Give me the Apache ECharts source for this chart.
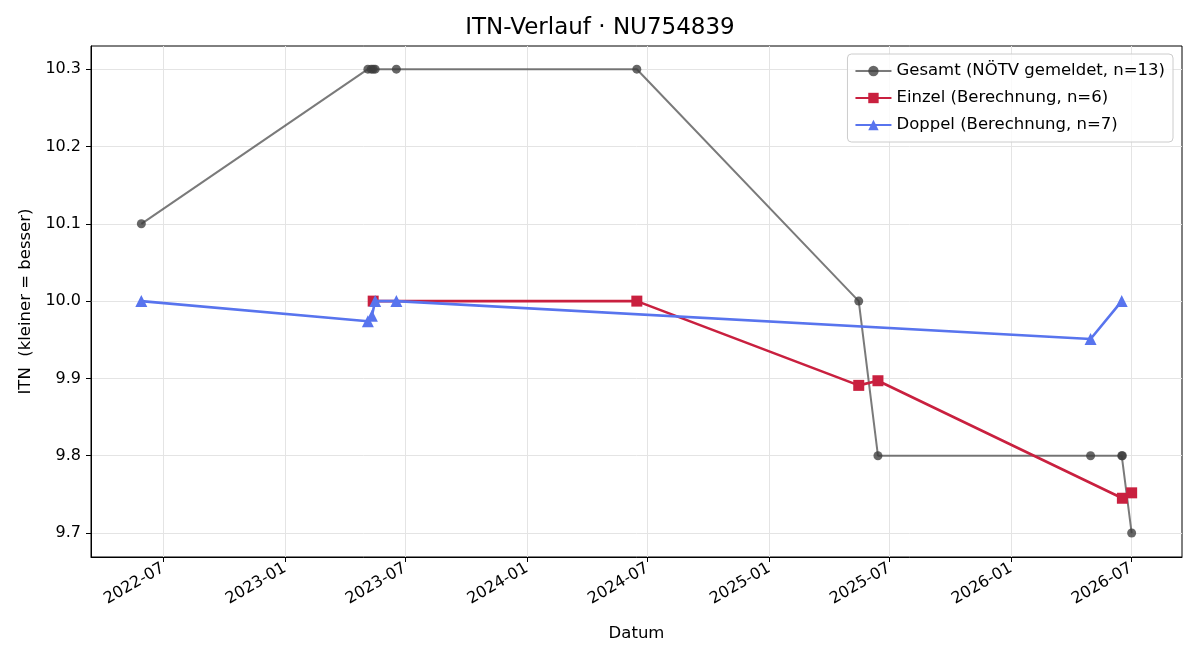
<!DOCTYPE html>
<html><head><meta charset="utf-8">
<script src="https://cdn.jsdelivr.net/npm/echarts@6/dist/echarts.min.js"></script>
<style>html,body{margin:0;padding:0;background:#fff}#c{width:1200px;height:660px}</style>
</head><body><div id="c"></div>
<script>
const gesamtDates = ['2022-05-29','2023-05-06','2023-05-11','2023-05-14','2023-05-17','2023-06-18','2024-06-15','2025-05-16','2025-06-14','2026-05-01','2026-06-17','2026-06-18','2026-07-02'];
const gesamtValues = [10.1,10.3,10.3,10.3,10.3,10.3,10.3,10.0,9.8,9.8,9.8,9.8,9.7];
const einzelDates = ['2023-05-14','2024-06-15','2025-05-16','2025-06-14','2026-06-18','2026-07-02'];
const einzelValues = [10.0,10.0,9.891,9.897,9.745,9.752];
const doppelDates = ['2022-05-29','2023-05-06','2023-05-12','2023-05-17','2023-06-18','2026-05-01','2026-06-17'];
const doppelValues = [10.0,9.974,9.981,10.0,10.0,9.951,10.0];
const xTickLabels = ['2022-07','2023-01','2023-07','2024-01','2024-07','2025-01','2025-07','2026-01','2026-07'];
const yTicks = [9.7,9.8,9.9,10.0,10.1,10.2,10.3];

const toTs = s => { const p = s.split('-').map(Number); return Date.UTC(p[0], p[1]-1, p[2] || 1); };
const pairs = (d, v) => d.map((x, i) => [toTs(x), v[i]]);
const xTicks = xTickLabels.map(toTs);
const font = 'DejaVu Sans';

const chart = echarts.init(document.getElementById('c'), null, {renderer: 'canvas'});
chart.setOption({
  animation: false,
  backgroundColor: '#fff',
  textStyle: {fontFamily: font},
  title: {text: 'ITN-Verlauf · NU754839', left: 'center', top: 12,
    textStyle: {fontFamily: font, fontSize: 23, fontWeight: 'normal', color: '#000'}},
  grid: {left: 91, right: 18, top: 46, bottom: 103, show: true, borderColor: '#000', borderWidth: 1, backgroundColor: 'transparent'},
  legend: {
    orient: 'vertical', right: 27, top: 54,
    backgroundColor: 'rgba(255,255,255,0.8)', borderColor: '#cccccc', borderWidth: 1, borderRadius: 4,
    padding: [8, 8, 8, 7], itemGap: 9, itemWidth: 36, itemHeight: 13,
    textStyle: {fontFamily: font, fontSize: 16.5, color: '#000', lineHeight: 18},
    data: ['Gesamt (NÖTV gemeldet, n=13)', 'Einzel (Berechnung, n=6)', 'Doppel (Berechnung, n=7)']
  },
  xAxis: {
    type: 'value',
    min: toTs('2022-03-14'), max: toTs('2026-09-16'),
    name: 'Datum', nameLocation: 'middle', nameGap: 68,
    nameTextStyle: {fontFamily: font, fontSize: 16.5, color: '#000'},
    axisLine: {show: true, onZero: false, lineStyle: {color: '#000', width: 1}},
    axisTick: {show: true, inside: false, length: 5, lineStyle: {color: '#000'}, customValues: xTicks},
    axisLabel: {customValues: xTicks, rotate: 30, fontFamily: font, fontSize: 16, color: '#000', margin: 10,
      formatter: v => { const i = xTicks.indexOf(v); return i >= 0 ? xTickLabels[i] : ''; }},
    splitLine: {show: true, lineStyle: {color: '#e4e4e4', width: 1}}
  },
  yAxis: {
    type: 'value', min: 9.669, max: 10.33,
    name: 'ITN  (kleiner = besser)', nameLocation: 'middle', nameGap: 57,
    nameTextStyle: {fontFamily: font, fontSize: 16.5, color: '#000'},
    axisLine: {show: true, lineStyle: {color: '#000', width: 1}},
    axisTick: {show: true, length: 5, lineStyle: {color: '#000'}, customValues: yTicks},
    axisLabel: {customValues: yTicks, fontFamily: font, fontSize: 16, color: '#000', margin: 10, formatter: v => v.toFixed(1)},
    splitLine: {show: true, lineStyle: {color: '#e4e4e4', width: 1}}
  },
  series: [
    {name: 'Gesamt (NÖTV gemeldet, n=13)', type: 'line', data: pairs(gesamtDates, gesamtValues),
      symbol: 'circle', symbolSize: 9, showAllSymbol: true, z: 2,
      lineStyle: {color: 'rgba(70,70,70,0.72)', width: 2},
      itemStyle: {color: 'rgba(60,60,60,0.78)'}},
    {name: 'Einzel (Berechnung, n=6)', type: 'line', data: pairs(einzelDates, einzelValues),
      symbol: 'rect', symbolSize: 11, showAllSymbol: true, z: 3,
      lineStyle: {color: '#c9203f', width: 2.6},
      itemStyle: {color: '#c9203f'}},
    {name: 'Doppel (Berechnung, n=7)', type: 'line', data: pairs(doppelDates, doppelValues),
      symbol: 'triangle', symbolSize: 12, showAllSymbol: true, z: 4,
      lineStyle: {color: '#5874ee', width: 2.6},
      itemStyle: {color: '#5874ee'}}
  ]
});
</script></body></html>
